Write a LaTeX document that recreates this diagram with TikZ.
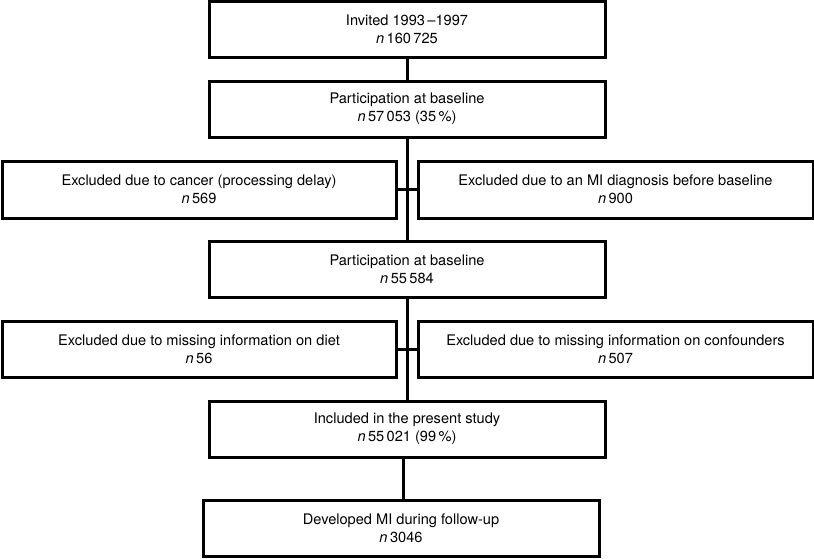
\documentclass[tikz,border=0pt]{standalone}
\usepackage{fontspec}
\setmainfont{TeX Gyre Heros}
\begin{document}
\begin{tikzpicture}[x=1pt,y=1pt,
  box/.style={draw, line width=3pt, rectangle, minimum width=396pt, minimum height=56pt,
    inner sep=0pt, align=center, font=\fontsize{14.6}{17.6}\selectfont},
  conn/.style={line width=3pt}]
\useasboundingbox (0,0) rectangle (814,-558);
\node[box] (b1) at (407,-29.5) {Invited 1993\,–1997\\\textit{n}\,160\,725};
\node[box] (b2) at (407,-109) {Participation at baseline\\\textit{n}\,57\,053 (35\,\%)};
\node[box, minimum width=394pt, minimum height=57pt] (b3l) at (199,-189.5) {Excluded due to cancer (processing delay)\\\textit{n}\,569};
\node[box, minimum width=395pt, minimum height=57pt] (b3r) at (615.5,-189.5) {Excluded due to an MI diagnosis before baseline\\\textit{n}\,900};
\node[box] (b4) at (407,-269) {Participation at baseline\\\textit{n}\,55\,584};
\node[box, minimum width=394pt] (b5l) at (199,-349) {Excluded due to missing information on diet\\\textit{n}\,56};
\node[box, minimum width=395pt] (b5r) at (615.5,-349) {Excluded due to missing information on confounders\\\textit{n}\,507};
\node[box] (b6) at (407,-429) {Included in the present study\\\textit{n}\,55\,021 (99\,\%)};
\node[box, minimum height=56pt] (b7) at (401,-528.5) {Developed MI during follow-up\\\textit{n}\,3046};
\draw[conn] (b1.south) -- (b2.north);
\draw[conn] (b2.south) -- (b4.north);
\draw[conn] (b4.south) -- (b6.north);
\draw[conn] (b3l.east) -- (b3r.west);
\draw[conn] (b5l.east) -- (b5r.west);
\coordinate (c6) at ([xshift=-4pt]b6.south);
\draw[conn] (c6) -- (c6 |- b7.north);
\end{tikzpicture}
\end{document}
